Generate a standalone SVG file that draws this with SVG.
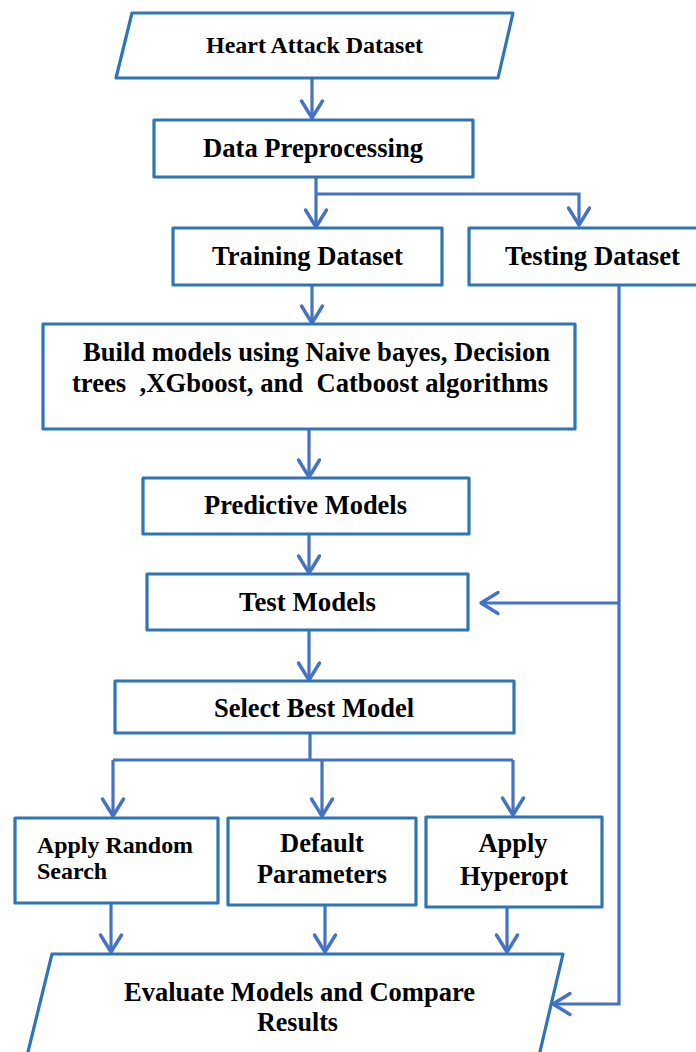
<svg xmlns="http://www.w3.org/2000/svg" width="696" height="1052" viewBox="0 0 696 1052">
<style>
.box{fill:#ffffff;stroke:#2E75B6;stroke-width:3.2;stroke-linejoin:round}
.t{font-family:"Liberation Serif","Times New Roman",serif;font-weight:bold;font-size:26.5px;fill:#000000;white-space:pre}
.c{fill:none;stroke:#4472C4;stroke-width:3.2}
</style>
<defs>
<marker id="ah" markerUnits="userSpaceOnUse" markerWidth="30" markerHeight="30" viewBox="-20 -15 30 30" refX="0" refY="0" orient="auto">
<path d="M-17,-10.5 L0,0 L-17,10.5" fill="none" stroke="#4472C4" stroke-width="3.4" stroke-linecap="round" stroke-linejoin="round"/>
</marker>
</defs>
<rect width="696" height="1052" fill="#ffffff"/>
<g id="connectors">
<path class="c" d="M312,78 V118" marker-end="url(#ah)"/>
<path class="c" d="M316,177 V227" marker-end="url(#ah)"/>
<path class="c" d="M316,194 H579 V225" marker-end="url(#ah)"/>
<path class="c" d="M312,285 V323" marker-end="url(#ah)"/>
<path class="c" d="M309,429 V477" marker-end="url(#ah)"/>
<path class="c" d="M309,534 V573" marker-end="url(#ah)"/>
<path class="c" d="M309,630 V680" marker-end="url(#ah)"/>
<path class="c" d="M310,733 V760"/>
<path class="c" d="M113,760 H513"/>
<path class="c" d="M113,760 V816" marker-end="url(#ah)"/>
<path class="c" d="M322,760 V816" marker-end="url(#ah)"/>
<path class="c" d="M513,760 V815" marker-end="url(#ah)"/>
<path class="c" d="M111,903 V952" marker-end="url(#ah)"/>
<path class="c" d="M325,905 V952" marker-end="url(#ah)"/>
<path class="c" d="M507,907 V952" marker-end="url(#ah)"/>
<path class="c" d="M619,285 V1004 H553" marker-end="url(#ah)"/>
<path class="c" d="M619,603 H481" marker-end="url(#ah)"/>
</g>
<g id="heart-attack-dataset">
<polygon class="box" points="132,13 513,13 498,78 116,78"/>
<text class="t" x="206" y="53" style="font-size:24px" textLength="217" lengthAdjust="spacingAndGlyphs">Heart Attack Dataset</text>
</g>
<g id="data-preprocessing">
<rect class="box" x="154" y="120" width="319" height="57"/>
<text class="t" x="203" y="157" textLength="220" lengthAdjust="spacingAndGlyphs">Data Preprocessing</text>
</g>
<g id="training-dataset">
<rect class="box" x="173" y="228" width="269" height="57"/>
<text class="t" x="212" y="265" textLength="191" lengthAdjust="spacingAndGlyphs">Training Dataset</text>
</g>
<g id="testing-dataset">
<rect class="box" x="469" y="228" width="240" height="57"/>
<text class="t" x="505" y="265" textLength="175" lengthAdjust="spacingAndGlyphs">Testing Dataset</text>
</g>
<g id="build-models">
<rect class="box" x="43" y="324" width="532" height="105"/>
<text class="t" x="83" y="361" textLength="467" lengthAdjust="spacingAndGlyphs">Build models using Naive bayes, Decision</text>
<text class="t" x="72" y="392" xml:space="preserve" textLength="476" lengthAdjust="spacingAndGlyphs">trees  ,XGboost, and  Catboost algorithms</text>
</g>
<g id="predictive-models">
<rect class="box" x="143" y="478" width="326" height="56"/>
<text class="t" x="204" y="514" textLength="203" lengthAdjust="spacingAndGlyphs">Predictive Models</text>
</g>
<g id="test-models">
<rect class="box" x="147" y="574" width="321" height="56"/>
<text class="t" x="239" y="611" textLength="137" lengthAdjust="spacingAndGlyphs">Test Models</text>
</g>
<g id="select-best-model">
<rect class="box" x="115" y="681" width="399" height="52"/>
<text class="t" x="214" y="717" textLength="200" lengthAdjust="spacingAndGlyphs">Select Best Model</text>
</g>
<g id="apply-random-search">
<rect class="box" x="15" y="818" width="203" height="85"/>
<text class="t" x="37" y="853" style="font-size:24px" textLength="156" lengthAdjust="spacingAndGlyphs">Apply Random</text>
<text class="t" x="37" y="879" style="font-size:24px">Search</text>
</g>
<g id="default-parameters">
<rect class="box" x="228" y="818" width="188" height="87"/>
<text class="t" x="322" y="852" text-anchor="middle">Default</text>
<text class="t" x="257" y="883" textLength="130" lengthAdjust="spacingAndGlyphs">Parameters</text>
</g>
<g id="apply-hyperopt">
<rect class="box" x="426" y="817" width="176" height="90"/>
<text class="t" x="513" y="852" text-anchor="middle">Apply</text>
<text class="t" x="460" y="885" textLength="108" lengthAdjust="spacingAndGlyphs">Hyperopt</text>
</g>
<g id="evaluate-models">
<polygon class="box" points="52,954 563,954 538,1060 26,1060"/>
<text class="t" x="124" y="1001" textLength="351" lengthAdjust="spacingAndGlyphs">Evaluate Models and Compare</text>
<text class="t" x="257" y="1031" textLength="81" lengthAdjust="spacingAndGlyphs">Results</text>
</g>
</svg>
